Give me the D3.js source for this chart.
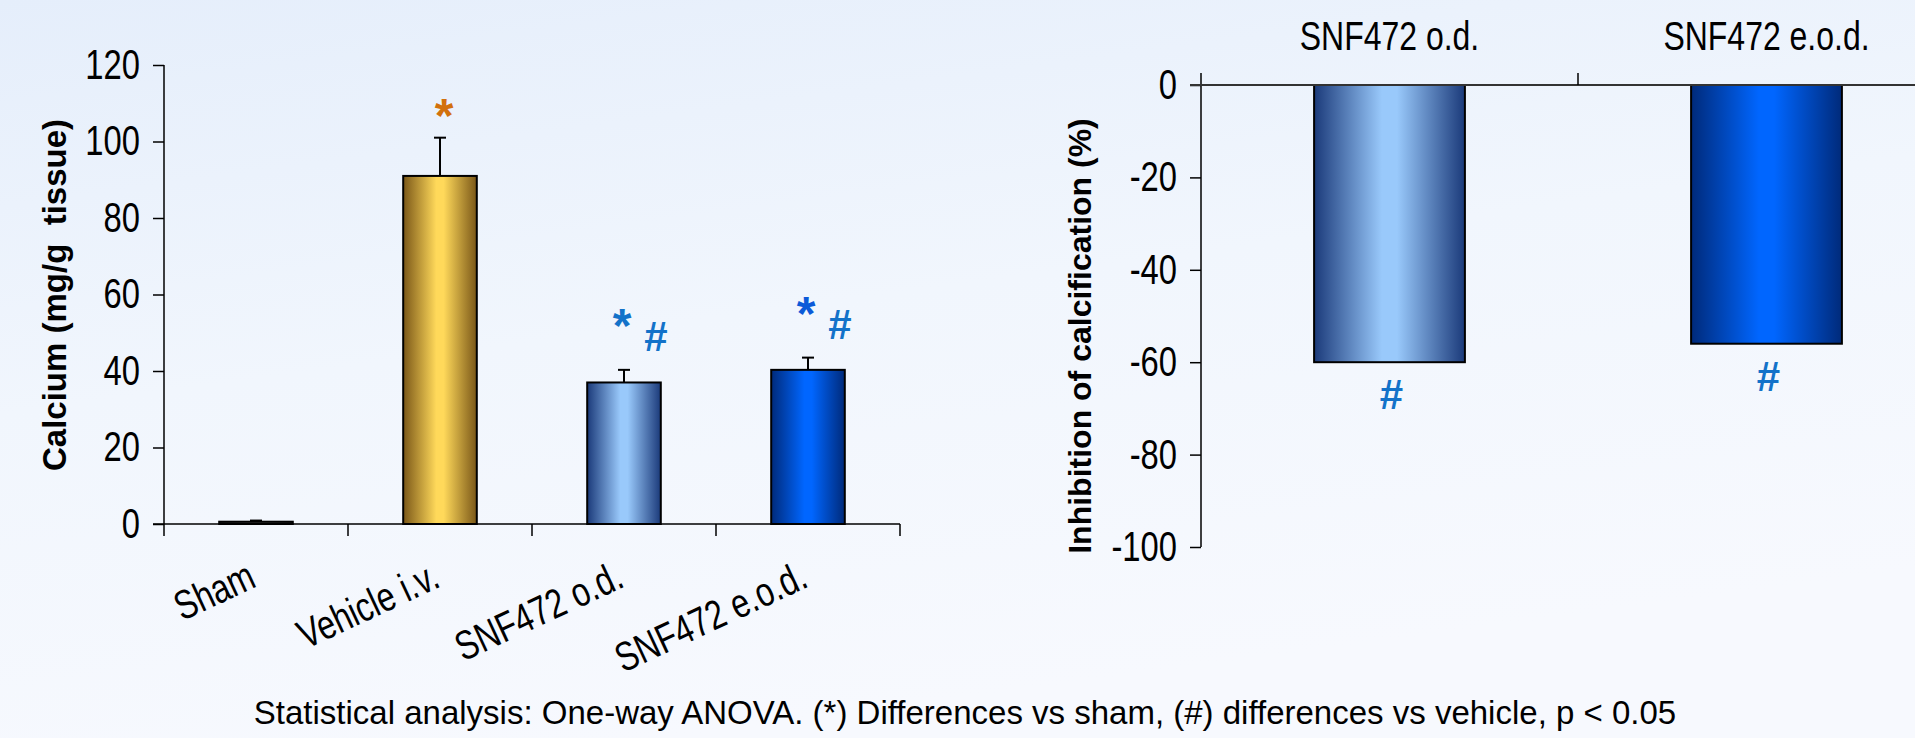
<!DOCTYPE html>
<html>
<head>
<meta charset="utf-8">
<script src="https://cdn.jsdelivr.net/npm/d3@7"></script>
<style>
  html, body { margin: 0; padding: 0; }
  body { width: 1915px; height: 738px; overflow: hidden; }
  text { font-family: "Liberation Sans", Arial, sans-serif; fill: #000; }
  .title, .mark { font-weight: bold; }
</style>
</head>
<body>
<svg id="chart" width="1915" height="738"></svg>
<script>
// left panel: calcium content
const groups = ['Sham', 'Vehicle i.v.', 'SNF472 o.d.', 'SNF472 e.o.d.'];
const calcium = [0.6, 91, 37, 40.3];
const calciumErr = [0.3, 10, 3.3, 3.2];
const calciumTicks = [0, 20, 40, 60, 80, 100, 120];
const starMarks = ['', '*', '*', '*'];
const hashMarks = ['', '', '#', '#'];

// right panel: inhibition
const treated = ['SNF472 o.d.', 'SNF472 e.o.d.'];
const inhibition = [-60, -56];
const inhibitionTicks = [0, -20, -40, -60, -80, -100];

const footnote = 'Statistical analysis: One-way ANOVA. (*) Differences vs sham, (#) differences vs vehicle, p < 0.05';

const NARROW = 0.78; // squeeze Liberation Sans to look like Arial Narrow

const svg = d3.select('#chart');
const defs = svg.append('defs');

// page background
const bg = defs.append('linearGradient').attr('id', 'bg')
  .attr('x1', 0).attr('y1', 0).attr('x2', 0.35).attr('y2', 1);
bg.append('stop').attr('offset', 0).attr('stop-color', '#e5eefb');
bg.append('stop').attr('offset', 0.5).attr('stop-color', '#f1f6fd');
bg.append('stop').attr('offset', 1).attr('stop-color', '#f7f9fe');
svg.append('rect').attr('width', 1915).attr('height', 738).attr('fill', 'url(#bg)');

// bar fills: dark edges, light stripe near the middle
function barGradient(id, dark, light) {
  const g = defs.append('linearGradient').attr('id', id)
    .attr('x1', 0).attr('y1', 0).attr('x2', 1).attr('y2', 0);
  g.append('stop').attr('offset', 0).attr('stop-color', dark);
  g.append('stop').attr('offset', 0.45).attr('stop-color', light);
  g.append('stop').attr('offset', 0.55).attr('stop-color', light);
  g.append('stop').attr('offset', 1).attr('stop-color', dark);
}
barGradient('gSham', '#222', '#555');
barGradient('gVeh', '#7a5718', '#ffd95a');
barGradient('gOd', '#1b3a7a', '#99c9fb');
barGradient('gEod', '#002a7a', '#0066ff');
const fills = ['url(#gSham)', 'url(#gVeh)', 'url(#gOd)', 'url(#gEod)'];
const starColors = ['#000', '#d2700c', '#1372c9', '#0b5ad8'];
const hashColor = '#1372c9';

function styleAxis(g) {
  g.select('.domain').remove();
  g.selectAll('line').attr('stroke', '#000').attr('stroke-width', 1.5);
  g.selectAll('text')
    .attr('font-size', 42).attr('font-family', null)
    .attr('x', -24 / NARROW)
    .attr('transform', `scale(${NARROW},1)`);
}

// ---------- left chart ----------
const x = d3.scaleBand().domain(groups).range([164, 900]).padding(0);
const y = d3.scaleLinear().domain([0, 120]).range([524, 65]);
const bw = x.bandwidth() * 0.4;
const cx = d => x(d) + x.bandwidth() / 2;

const left = svg.append('g');

left.append('g')
  .attr('transform', 'translate(164,0)')
  .call(d3.axisLeft(y).tickValues(calciumTicks).tickFormat(d => String(d)).tickSize(11).tickSizeOuter(0))
  .call(styleAxis);
left.append('line').attr('x1', 164).attr('x2', 164).attr('y1', y(120)).attr('y2', y(0) + 12)
  .attr('stroke', '#000').attr('stroke-width', 1.5);

left.selectAll('rect.bar').data(groups).join('rect')
  .attr('class', 'bar')
  .attr('x', d => cx(d) - bw / 2)
  .attr('y', (d, i) => y(calcium[i]))
  .attr('width', bw)
  .attr('height', (d, i) => y(0) - y(calcium[i]))
  .attr('fill', (d, i) => fills[i])
  .attr('stroke', '#000').attr('stroke-width', 2);

// upper error bars
const err = left.selectAll('g.err').data(groups).join('g').attr('class', 'err');
err.append('line')
  .attr('x1', d => cx(d)).attr('x2', d => cx(d))
  .attr('y1', (d, i) => y(calcium[i])).attr('y2', (d, i) => y(calcium[i] + calciumErr[i]))
  .attr('stroke', '#000').attr('stroke-width', 2);
err.append('line')
  .attr('x1', d => cx(d) - 6).attr('x2', d => cx(d) + 6)
  .attr('y1', (d, i) => y(calcium[i] + calciumErr[i])).attr('y2', (d, i) => y(calcium[i] + calciumErr[i]))
  .attr('stroke', '#000').attr('stroke-width', 2);

// baseline + category boundary ticks
left.append('line').attr('x1', 153).attr('x2', 900).attr('y1', y(0)).attr('y2', y(0))
  .attr('stroke', '#000').attr('stroke-width', 1.5);
left.selectAll('line.bnd').data(groups).join('line')
  .attr('class', 'bnd')
  .attr('x1', d => x(d) + x.bandwidth()).attr('x2', d => x(d) + x.bandwidth())
  .attr('y1', y(0)).attr('y2', y(0) + 12)
  .attr('stroke', '#000').attr('stroke-width', 1.5);

left.selectAll('text.cat').data(groups).join('text')
  .attr('class', 'cat')
  .attr('transform', d => `translate(${cx(d) + 2},586) rotate(-25) scale(${NARROW},1)`)
  .attr('text-anchor', 'end')
  .attr('font-size', 41)
  .text(d => d);

// significance marks (vehicle star sits closer to its error bar)
left.selectAll('text.star').data(groups).join('text')
  .attr('class', 'mark star')
  .attr('x', (d, i) => i === 1 ? cx(d) + 4 : cx(d) - 2)
  .attr('y', (d, i) => y(calcium[i] + calciumErr[i]) - (i === 1 ? 6 : 28))
  .attr('text-anchor', 'middle')
  .attr('font-size', 48)
  .style('fill', (d, i) => starColors[i])
  .text((d, i) => starMarks[i]);
left.selectAll('text.hash').data(groups).join('text')
  .attr('class', 'mark hash')
  .attr('x', d => cx(d) + 32)
  .attr('y', (d, i) => y(calcium[i] + calciumErr[i]) - 19)
  .attr('text-anchor', 'middle')
  .attr('font-size', 42)
  .style('fill', hashColor)
  .text((d, i) => hashMarks[i]);

left.append('text').attr('class', 'title')
  .attr('transform', 'translate(66,295) rotate(-90)')
  .attr('text-anchor', 'middle')
  .attr('font-size', 33)
  .attr('xml:space', 'preserve')
  .text('Calcium (mg/g  tissue)');

// ---------- right chart ----------
const x2 = d3.scaleBand().domain(treated).range([1201, 1955]).padding(0);
const y2 = d3.scaleLinear().domain([-100, 0]).range([547, 85]);
const bw2 = x2.bandwidth() * 0.4;
const cx2 = d => x2(d) + x2.bandwidth() / 2;

const right = svg.append('g');

right.append('g')
  .attr('transform', 'translate(1201,0)')
  .call(d3.axisLeft(y2).tickValues(inhibitionTicks).tickFormat(d => String(d)).tickSize(11).tickSizeOuter(0))
  .call(styleAxis);
right.append('line').attr('x1', 1201).attr('x2', 1201).attr('y1', y2(0) - 12).attr('y2', y2(-100))
  .attr('stroke', '#000').attr('stroke-width', 1.5);

right.selectAll('rect.bar').data(treated).join('rect')
  .attr('class', 'bar')
  .attr('x', d => cx2(d) - bw2 / 2)
  .attr('y', y2(0))
  .attr('width', bw2)
  .attr('height', (d, i) => y2(inhibition[i]) - y2(0))
  .attr('fill', (d, i) => fills[i + 2])
  .attr('stroke', '#000').attr('stroke-width', 2);

right.append('line').attr('x1', 1190).attr('x2', 1915).attr('y1', y2(0)).attr('y2', y2(0))
  .attr('stroke', '#333').attr('stroke-width', 2);
right.selectAll('line.bnd').data(treated).join('line')
  .attr('class', 'bnd')
  .attr('x1', d => x2(d) + x2.bandwidth()).attr('x2', d => x2(d) + x2.bandwidth())
  .attr('y1', y2(0)).attr('y2', y2(0) - 12)
  .attr('stroke', '#000').attr('stroke-width', 1.5);

right.selectAll('text.cat').data(treated).join('text')
  .attr('class', 'cat')
  .attr('transform', d => `translate(${cx2(d)},50) scale(${NARROW},1)`)
  .attr('text-anchor', 'middle')
  .attr('font-size', 41)
  .text(d => d);

right.selectAll('text.hash').data(treated).join('text')
  .attr('class', 'mark hash')
  .attr('x', d => cx2(d) + 2)
  .attr('y', (d, i) => y2(inhibition[i]) + 47)
  .attr('text-anchor', 'middle')
  .attr('font-size', 42)
  .style('fill', hashColor)
  .text('#');

right.append('text').attr('class', 'title')
  .attr('transform', 'translate(1091,336) rotate(-90)')
  .attr('text-anchor', 'middle')
  .attr('font-size', 32)
  .text('Inhibition of calcification (%)');

svg.append('text')
  .attr('x', 965).attr('y', 724)
  .attr('text-anchor', 'middle')
  .attr('font-size', 33)
  .text(footnote);
</script>
</body>
</html>
